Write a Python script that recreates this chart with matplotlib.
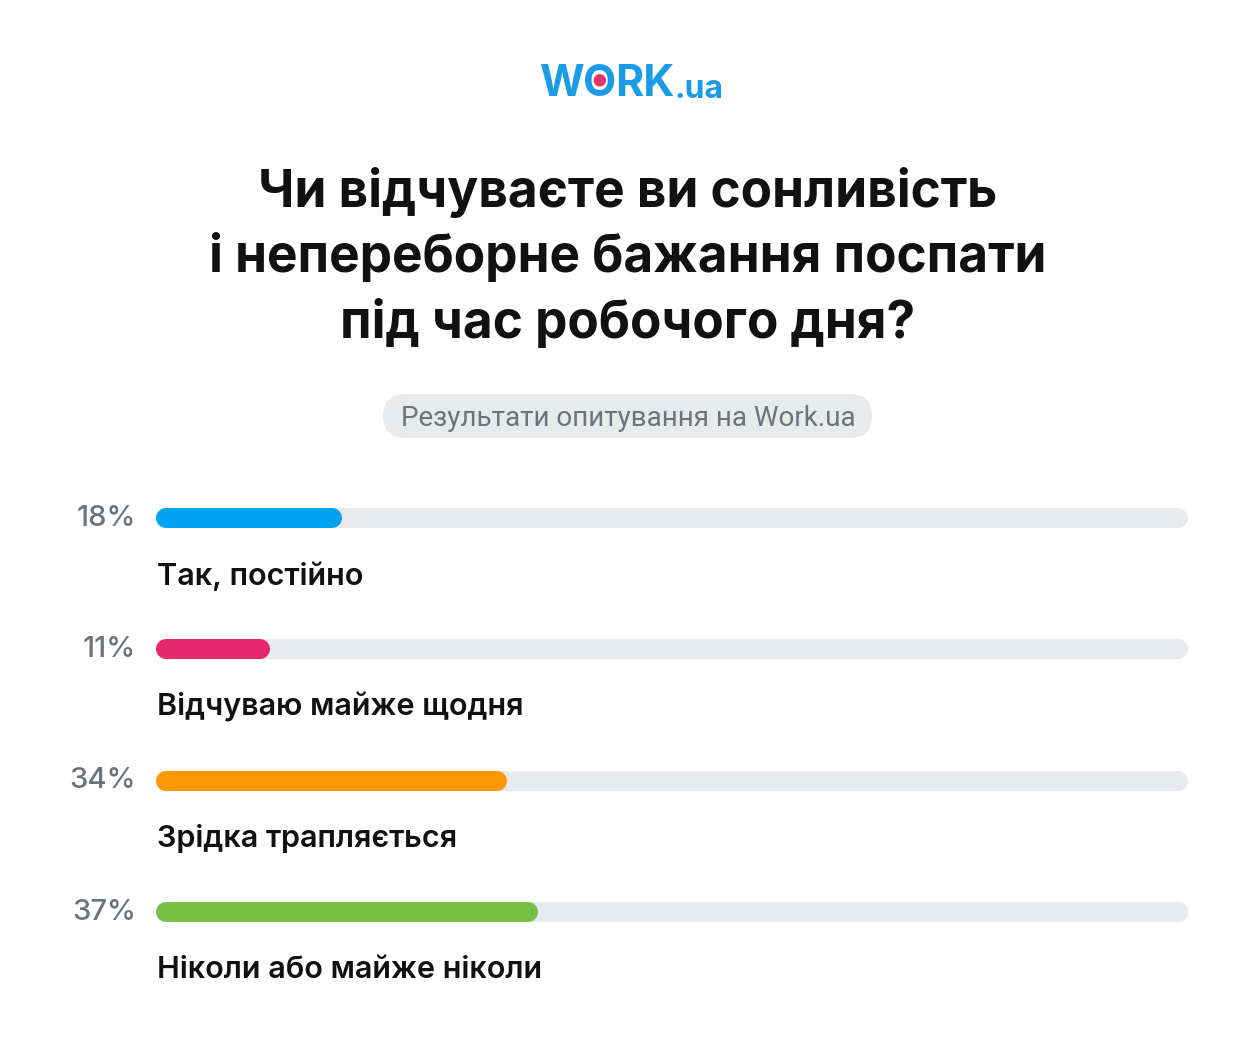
import matplotlib
matplotlib.use("Agg")
import matplotlib.pyplot as plt
from matplotlib.patches import FancyBboxPatch, Circle
from matplotlib.transforms import offset_copy

plt.rcParams["font.family"] = ["Inter", "DejaVu Sans"]

title = "Чи відчуваєте ви сонливість\nі непереборне бажання поспати\nпід час робочого дня?"
subtitle = "Результати опитування на Work.ua"
answers = ["Так, постійно", "Відчуваю майже щодня", "Зрідка трапляється", "Ніколи або майже ніколи"]
values = [18, 11, 34, 37]
colors = ["#00a3ef", "#e5296b", "#ff9800", "#76c143"]

W, H = 1256, 1058
DPI = 100
fig = plt.figure(figsize=(W / DPI, H / DPI), dpi=DPI)
fig.patch.set_facecolor("white")

# background axes in pixel coordinates for the header
bg = fig.add_axes([0, 0, 1, 1])
bg.set_xlim(0, W)
bg.set_ylim(H, 0)
bg.axis("off")

# logo: W + O (with pink dot) + RK + .ua
logo_blue = "#1a9be6"
t_w = bg.text(540, 96, "W", ha="left", va="baseline", fontsize=31,
              fontweight="bold", color=logo_blue)
t_o = bg.annotate("O", xy=(1, 0), xycoords=t_w, xytext=(-1, 0), textcoords="offset points",
                  ha="left", va="bottom", fontsize=31, fontweight="bold", color=logo_blue)
t_rk = bg.annotate("RK", xy=(1, 0), xycoords=t_o, xytext=(-1, 0), textcoords="offset points",
                   ha="left", va="bottom", fontsize=31, fontweight="bold", color=logo_blue)
bg.annotate(".ua", xy=(1, 0), xycoords=t_rk, xytext=(0, 0), textcoords="offset points",
            ha="left", va="bottom", fontsize=23, fontweight="bold", color=logo_blue)

# pink dot in the middle of the "O" glyph (x from its box, y at cap-height centre)
fig.canvas.draw()
bb = t_o.get_window_extent().transformed(bg.transData.inverted())
dot_x = (bb.x0 + bb.x1) / 2
dot_y = 96 - 31 * DPI / 72 * 0.727 / 2
bg.add_patch(Circle((dot_x, dot_y), 5.5, color="#e2336b", zorder=5))

bg.text(628, 258, title, ha="center", va="center", fontsize=37, fontweight="bold",
        color="#111111", linespacing=1.39)

# subtitle pill
bg.add_patch(FancyBboxPatch((383, 394), 489, 44,
                            boxstyle="round,pad=0,rounding_size=22",
                            facecolor="#e9eaec", edgecolor="none"))
bg.text(628, 418, subtitle, ha="center", va="center", fontsize=20,
        color="#6b747d", family=["Roboto", "DejaVu Sans"])

# bar axes: x is percent, track spans 156..1188 px
left, right = 156, 1188
y_first, y_last = 518, 912
step = (y_last - y_first) / (len(values) - 1)
top = y_first - step / 2
bottom = y_last + step / 2
ax = fig.add_axes([left / W, 1 - bottom / H, (right - left) / W, (bottom - top) / H])
ax.set_xlim(0, 100)
ax.set_ylim(len(values) - 0.5, -0.5)
ax.axis("off")

bar_h = 20  # px
lw = bar_h * 72 / DPI
cap = 100 * (bar_h / 2) / (right - left)  # round cap radius in data units

for i, (lab, v, c) in enumerate(zip(answers, values, colors)):
    ax.plot([cap, 100 - cap], [i, i], color="#e9eaed", lw=lw,
            solid_capstyle="round", zorder=1)
    ax.plot([cap, max(v - cap, cap)], [i, i], color=c, lw=lw,
            solid_capstyle="round", zorder=2)
    tr_pct = offset_copy(ax.transData, fig=fig, x=-20, y=0, units="dots")
    ax.text(0, i, f"{v}%", transform=tr_pct, ha="right", va="center",
            fontsize=21, fontweight="medium", color="#6b747d", clip_on=False)
    tr_lab = offset_copy(ax.transData, fig=fig, x=1, y=-58, units="dots")
    ax.text(0, i, lab, transform=tr_lab, ha="left", va="center",
            fontsize=22, fontweight="semibold", color="#111111", clip_on=False)

fig.savefig("out.png", dpi=DPI, facecolor="white")
